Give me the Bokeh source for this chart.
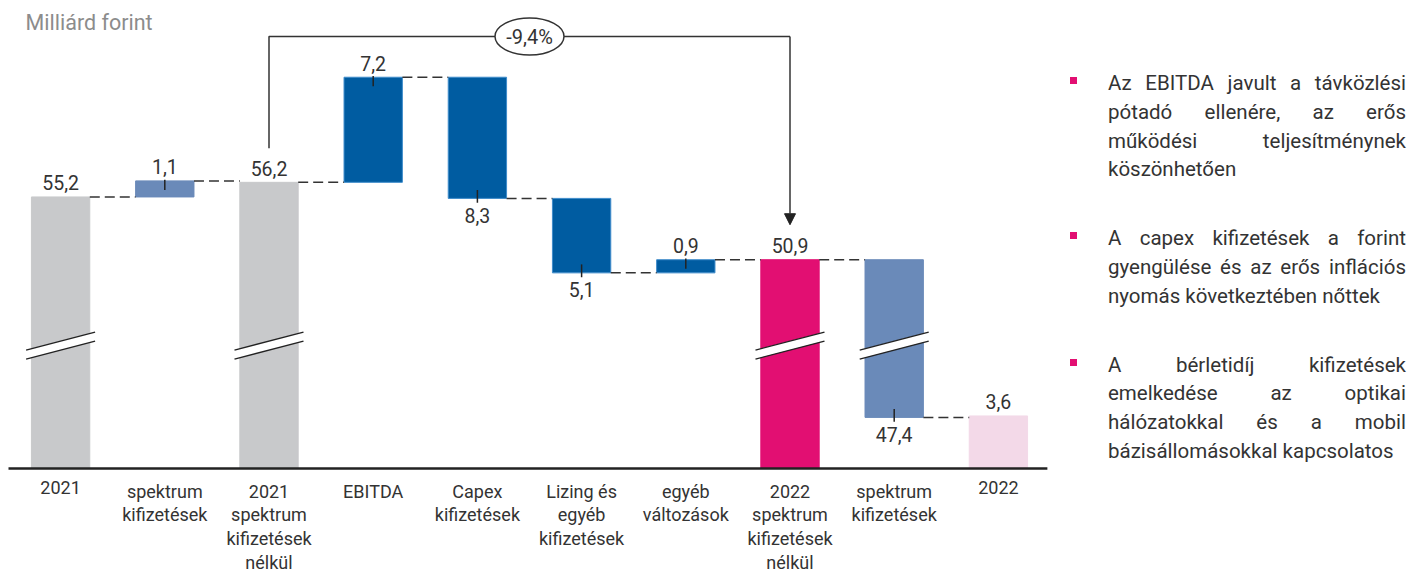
from bokeh.plotting import figure
from bokeh.models import Range1d, Div, Arrow, NormalHead, Label
from bokeh.layouts import row
from bokeh.embed import file_html
from bokeh.resources import INLINE
from bokeh.core.properties import value

# ---------------- data ----------------
categories = ["2021", "spektrum\nkifizetések", "2021\nspektrum\nkifizetések\nnélkül", "EBITDA",
              "Capex\nkifizetések", "Lizing és\negyéb\nkifizetések", "egyéb\nváltozások",
              "2022\nspektrum\nkifizetések\nnélkül", "spektrum\nkifizetések", "2022"]
values = [55.2, 1.1, 56.2, 7.2, -8.3, -5.1, 0.9, 50.9, -47.4, 3.6]
kinds = ["total", "delta", "total", "delta", "delta", "delta", "delta", "total", "delta", "total"]
value_labels = ["55,2", "1,1", "56,2", "7,2", "8,3", "5,1", "0,9", "50,9", "47,4", "3,6"]
bar_colors = ["#c8c9cb", "#6a8ab9", "#c8c9cb", "#005ca1", "#005ca1", "#005ca1", "#005ca1",
              "#e20f72", "#6a8ab9", "#f3d9e8"]
edge_colors = ["#c8c9cb", "#6a8ab9", "#c8c9cb", "#3f8ccb", "#3f8ccb", "#3f8ccb", "#3f8ccb",
               "#e20f72", "#6a8ab9", "#f3d9e8"]
change_from, change_to = 2, 7
change_label = "-9,4%"
title = "Milliárd forint"
notes = [
    "Az EBITDA javult a távközlési pótadó ellenére, az erős működési teljesítménynek köszönhetően",
    "A capex kifizetések a forint gyengülése és az erős inflációs nyomás következtében nőttek",
    "A bérletidíj kifizetések emelkedése az optikai hálózatokkal és a mobil bázisállomásokkal kapcsolatos",
]

# ---------------- layout constants ----------------
FONT = "Roboto"
W, H = 1056, 574
DIV_W = 350
PXX = 104.2          # px per category
PX = 14.6            # px per milliárd
BASE_PX = 468        # baseline pixel from top of figure
X0_PX = 8            # left edge of first category slot
BREAK_AT = 20.0      # values above this are drawn on the shifted (broken) scale
BREAK_SHIFT = 36.6
BREAK_Y = 8.42
BW = 0.56
TXT = "#333333"


def disp(v):
    return v - BREAK_SHIFT if v > BREAK_AT else v


# waterfall geometry
bottoms, tops, ends, starts = [], [], [], []
running = 0.0
for v, k in zip(values, kinds):
    if k == "total":
        s, e = 0.0, v
    else:
        s, e = running, running + v
    running = e
    starts.append(s)
    ends.append(e)
    bottoms.append(disp(min(s, e)))
    tops.append(disp(max(s, e)))

xs = list(range(len(categories)))
x_start = -0.5 - X0_PX / PXX

p = figure(width=W, height=H, output_backend="svg", toolbar_location=None,
           x_range=Range1d(x_start, x_start + W / PXX),
           y_range=Range1d(-(H - BASE_PX) / PX, BASE_PX / PX),
           x_axis_location=None, y_axis_location=None, min_border=0)
p.grid.visible = False
p.outline_line_color = None
p.background_fill_color = "white"

# bars
p.quad(left=[x - BW / 2 for x in xs], right=[x + BW / 2 for x in xs], bottom=bottoms, top=tops,
       fill_color=bar_colors, line_color=edge_colors, line_width=1)

# connectors
cx0 = [x + BW / 2 for x in xs[:-1]]
cx1 = [x + 1 - BW / 2 for x in xs[:-1]]
cy = [disp(e) for e in ends[:-1]]
p.segment(x0=cx0, y0=cy, x1=cx1, y1=cy, line_color="#333333", line_width=1.5, line_dash="10 5")

# baseline
p.segment(x0=[-0.5], y0=[0], x1=[len(xs) - 0.53], y1=[0], line_color="#222222", line_width=2.5)

# break marks
half_w = 34.5 / PXX
rise = 9.0 / PX
gap = 4.5 / PX
for i in xs:
    lo_v = min(starts[i], ends[i])
    hi_v = max(starts[i], ends[i])
    if lo_v < BREAK_AT < hi_v:
        xl, xr = i - half_w, i + half_w
        p.patch([xl, xr, xr, xl],
                [BREAK_Y + gap - rise, BREAK_Y + gap + rise, BREAK_Y - gap + rise, BREAK_Y - gap - rise],
                fill_color="white", line_color=None)
        for sgn in (1, -1):
            p.line([xl, xr], [BREAK_Y + sgn * gap - rise, BREAK_Y + sgn * gap + rise],
                   line_color="#222222", line_width=1.4)

# delta ticks
for i in xs:
    if kinds[i] != "delta":
        continue
    e = disp(ends[i])
    if values[i] > 0:
        y0, y1 = e - 0.62, e + 0.08
    else:
        y0, y1 = e + 0.58, e - 0.3
    p.line([i, i], [y0, y1], line_color="#222222", line_width=1.5)

# value labels
up_x, up_y, up_t, dn_x, dn_y, dn_t = [], [], [], [], [], []
for i in xs:
    if kinds[i] == "total" or values[i] > 0:
        up_x.append(i); up_y.append(tops[i]); up_t.append(value_labels[i])
    else:
        dn_x.append(i); dn_y.append(bottoms[i]); dn_t.append(value_labels[i])
p.text(x=up_x, y=up_y, text=up_t, text_align="center", text_baseline="middle", y_offset=-14,
       text_font=value(FONT), text_font_size="19.5px", text_color=TXT)
p.text(x=dn_x, y=dn_y, text=dn_t, text_align="center", text_baseline="middle", y_offset=17,
       text_font=value(FONT), text_font_size="19.5px", text_color=TXT)

# category labels
p.text(x=xs, y=[0] * len(xs), text=categories, text_align="center", text_baseline="top",
       y_offset=12, text_font=value(FONT), text_font_size="18px", text_color=TXT,
       text_line_height=1.13)

# change bracket
BRACKET_Y = (BASE_PX - 36) / PX
y_start = tops[change_from] + 34 / PX
y_tip = tops[change_to] + 35 / PX
p.line([change_from, change_from, change_to], [y_start, BRACKET_Y, BRACKET_Y],
       line_color="#333333", line_width=1.5)
p.add_layout(Arrow(end=NormalHead(size=11, fill_color="#222222", line_color="#222222"),
                   x_start=change_to, y_start=BRACKET_Y, x_end=change_to, y_end=y_tip,
                   line_color="#333333", line_width=1.5))
mid = (change_from + change_to) / 2
p.ellipse(x=[mid], y=[BRACKET_Y], width=69, height=37, width_units="screen",
          height_units="screen", fill_color="white", line_color="#333333", line_width=1.5)
p.text(x=[mid], y=[BRACKET_Y], text=[change_label], text_align="center", text_baseline="middle",
       text_font=value(FONT), text_font_size="20px", text_color=TXT)

# title
p.add_layout(Label(x=25, y=H - 22, x_units="screen", y_units="screen", text=title,
                   text_font=FONT, text_font_size="21.5px", text_color="#8c8c8c",
                   text_baseline="middle"))

# notes panel
items = "".join(
    '<div style="position:relative;padding-left:52px;margin-bottom:40px;text-align:justify;'
    'line-height:28.8px;">'
    '<span style="position:absolute;left:14px;top:8px;width:7px;height:7px;background:#e20f72;"></span>'
    f'{t}</div>' for t in notes)
div = Div(text=f'<div style="font-family:Roboto;font-size:20.5px;color:#333333;padding-top:69px;'
               f'width:{DIV_W}px;box-sizing:border-box;">{items}</div>',
          width=DIV_W, height=H, margin=0)

layout = row(p, div)
open("out.html", "w").write(file_html(layout, INLINE))
